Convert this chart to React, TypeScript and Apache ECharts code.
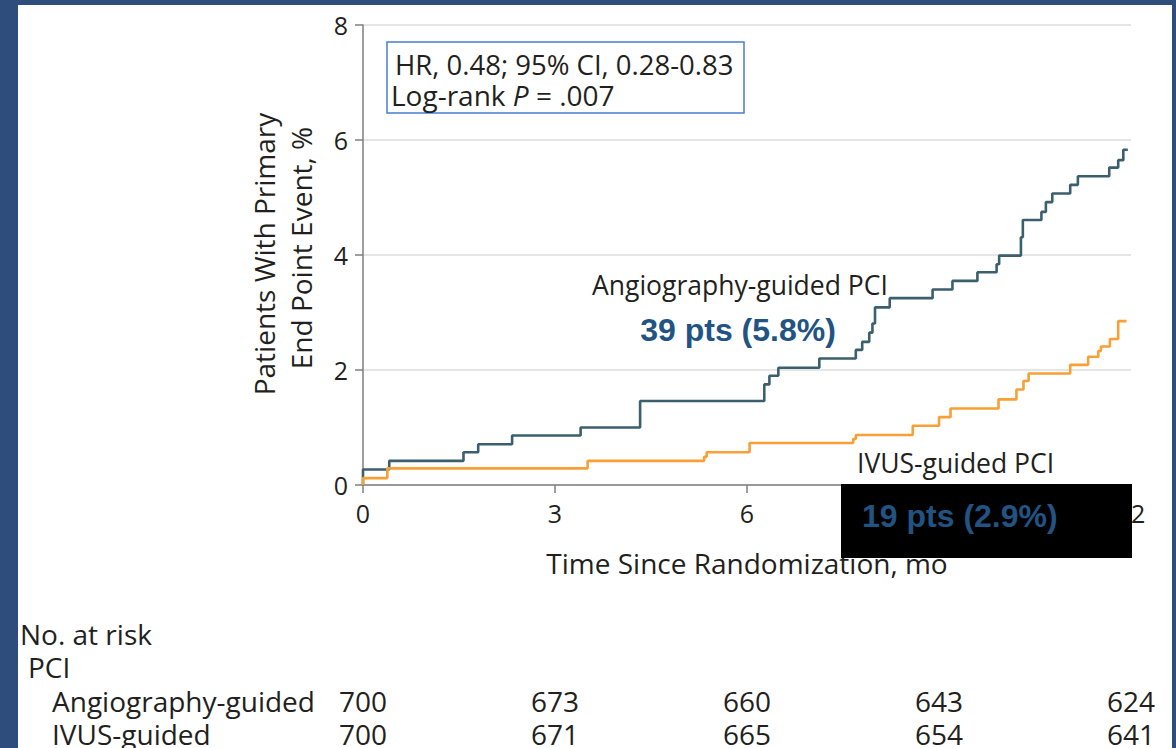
import React, { useEffect, useRef } from "react";
import * as echarts from "echarts";

// Kaplan-Meier step data (time in months, cumulative % with event)
const angioTimes = [0, 0, 0.41, 1.57, 1.8, 2.33, 3.4, 4.33, 6.27, 6.35, 6.49, 7.13, 7.7, 7.8, 7.91, 7.96, 8.0, 8.23, 8.9, 9.21, 9.6, 9.9, 9.94, 10.28, 10.31, 10.6, 10.67, 10.77, 11.05, 11.17, 11.66, 11.8, 11.88, 11.95];
const angioValues = [0, 0.27, 0.42, 0.57, 0.71, 0.86, 1.0, 1.46, 1.75, 1.9, 2.04, 2.2, 2.35, 2.49, 2.65, 2.81, 3.09, 3.25, 3.4, 3.55, 3.7, 3.84, 3.99, 4.31, 4.61, 4.75, 4.92, 5.07, 5.22, 5.37, 5.52, 5.65, 5.83, 5.83];

const ivusTimes = [0, 0, 0.38, 3.51, 5.33, 5.37, 6.04, 7.66, 7.7, 8.59, 9.0, 9.18, 9.93, 10.21, 10.32, 10.4, 11.05, 11.33, 11.49, 11.53, 11.67, 11.8, 11.93];
const ivusValues = [0, 0.12, 0.29, 0.42, 0.49, 0.57, 0.73, 0.8, 0.87, 1.03, 1.18, 1.33, 1.49, 1.66, 1.81, 1.94, 2.09, 2.23, 2.33, 2.41, 2.54, 2.85, 2.85];

const xTicks = { min: 0, max: 12, interval: 3 };
const yTicks = { min: 0, max: 8, interval: 2 };

const atRiskTimes = [0, 3, 6, 9, 12];
const angioAtRisk = [700, 673, 660, 643, 624];
const ivusAtRisk = [700, 671, 665, 654, 641];

const yAxisTitle = ["Patients With Primary", "End Point Event, %"];
const xAxisTitle = "Time Since Randomization, mo";
const statsLine1 = "HR, 0.48; 95% CI, 0.28-0.83";
const angioLabel = "Angiography-guided PCI";
const angioCount = "39 pts (5.8%)";
const ivusLabel = "IVUS-guided PCI";
const ivusCount = "19 pts (2.9%)";
const tableHead = ["No. at risk", "PCI"];
const tableRows = ["Angiography-guided", "IVUS-guided"];

const FONT = "'Open Sans', 'DejaVu Sans', sans-serif";
const BOLD_FONT = "'Liberation Sans', Arial, sans-serif";
const TEXT = "#231f20";
const AXIS = "#7f7f7f";
const ANGIO = "#3b5f6d";
const IVUS = "#f7a035";
const COUNT_BLUE = "#215383";

export default function App() {
  const ref = useRef<HTMLDivElement>(null);
  useEffect(() => {
    const chart = echarts.init(ref.current!, null, { renderer: "svg" });
    chart.setOption({
      animation: false,
      backgroundColor: "transparent",
      grid: { left: 363, right: 45, top: 25, bottom: 263, containLabel: false },
      xAxis: {
        type: "value",
        min: xTicks.min,
        max: xTicks.max,
        interval: xTicks.interval,
        axisLine: { lineStyle: { color: AXIS, width: 1.5 } },
        axisTick: { show: true, length: 8, lineStyle: { color: AXIS, width: 1.5 } },
        axisLabel: { fontSize: 25, color: TEXT, fontFamily: FONT, margin: 15 },
        splitLine: { show: false },
      },
      yAxis: {
        type: "value",
        min: yTicks.min,
        max: yTicks.max,
        interval: yTicks.interval,
        axisLine: { show: true, lineStyle: { color: AXIS, width: 1.5 } },
        axisTick: { show: true, length: 8, lineStyle: { color: AXIS, width: 1.5 } },
        axisLabel: { fontSize: 25, color: TEXT, fontFamily: FONT, margin: 15 },
        splitLine: { show: true, lineStyle: { color: "#dcdcdc", width: 1.5 } },
      },
      series: [
        {
          type: "line",
          name: "Angiography-guided PCI",
          step: "end",
          symbol: "none",
          data: angioTimes.map((t, i) => [t, angioValues[i]]),
          lineStyle: { color: ANGIO, width: 2.6 },
          z: 3,
        },
        {
          type: "line",
          name: "IVUS-guided PCI",
          step: "end",
          symbol: "none",
          data: ivusTimes.map((t, i) => [t, ivusValues[i]]),
          lineStyle: { color: IVUS, width: 2.6 },
          z: 4,
        },
      ],
    });

    const px = (t: number) => chart.convertToPixel({ xAxisIndex: 0 }, t) as number;

    const txt = (x: number, y: number, text: string, font: string, align = "left", extra: any = {}) => ({
      type: "text",
      x,
      y,
      z: 11,
      style: { text, font, fill: TEXT, textAlign: align, textVerticalAlign: "middle", lineHeight: 26, ...extra },
    });

    const tableNums: any[] = [];
    atRiskTimes.forEach((t, i) => {
      tableNums.push(txt(px(t), 701, String(angioAtRisk[i]), `28px ${FONT}`, "center"));
      tableNums.push(txt(px(t), 734, String(ivusAtRisk[i]), `28px ${FONT}`, "center"));
    });

    chart.setOption({
      graphic: [
        { type: "rect", shape: { x: 387, y: 42, width: 357, height: 71 }, style: { fill: "#fff", stroke: "#4a7ed0", lineWidth: 1.5 }, z: 10 },
        txt(395, 64, statsLine1, `27.5px ${FONT}`),
        {
          type: "text", x: 391, y: 95, z: 11,
          style: {
            text: "{a|Log-rank }{i|P}{a| = .007}",
            textAlign: "left", textVerticalAlign: "middle",
            rich: {
              a: { fontSize: 28, fontFamily: FONT, fill: TEXT, color: TEXT, lineHeight: 26 },
              i: { fontSize: 28, fontFamily: FONT, fontStyle: "italic", fill: TEXT, color: TEXT, lineHeight: 26 },
            },
          },
        },
        txt(592, 285, angioLabel, `26.5px ${FONT}`),
        { type: "text", x: 738, y: 330, z: 11, style: { text: angioCount, font: `bold 32px ${BOLD_FONT}`, fill: COUNT_BLUE, textAlign: "center", textVerticalAlign: "middle", lineHeight: 30 } },
        txt(857, 463, ivusLabel, `26.5px ${FONT}`),
        { type: "rect", shape: { x: 841, y: 484, width: 291, height: 74 }, style: { fill: "#000" }, z: 20 },
        { type: "text", x: 862, y: 516, z: 21, style: { text: ivusCount, font: `bold 32px ${BOLD_FONT}`, fill: COUNT_BLUE, textAlign: "left", textVerticalAlign: "middle", lineHeight: 30 } },
        txt(747, 563, xAxisTitle, `28px ${FONT}`, "center"),
        { ...txt(264, 254, yAxisTitle[0], `28px ${FONT}`, "center"), rotation: Math.PI / 2 },
        { ...txt(301, 248, yAxisTitle[1], `28px ${FONT}`, "center"), rotation: Math.PI / 2 },
        txt(20, 634, tableHead[0], `28px ${FONT}`),
        txt(28, 667, tableHead[1], `28px ${FONT}`),
        txt(52, 701, tableRows[0], `28px ${FONT}`),
        txt(52, 734, tableRows[1], `28px ${FONT}`),
        ...tableNums,
      ],
    });
    return () => chart.dispose();
  }, []);

  return (
    <div style={{ position: "fixed", left: 0, top: 0, width: 1176, height: 748, background: "#2e4d7d", overflow: "hidden" }}>
      <div style={{ position: "absolute", left: 18, top: 5, width: 1154, height: 743, background: "#ffffff" }} />
      <div ref={ref} style={{ position: "absolute", left: 0, top: 0, width: 1176, height: 748 }} />
    </div>
  );
}
